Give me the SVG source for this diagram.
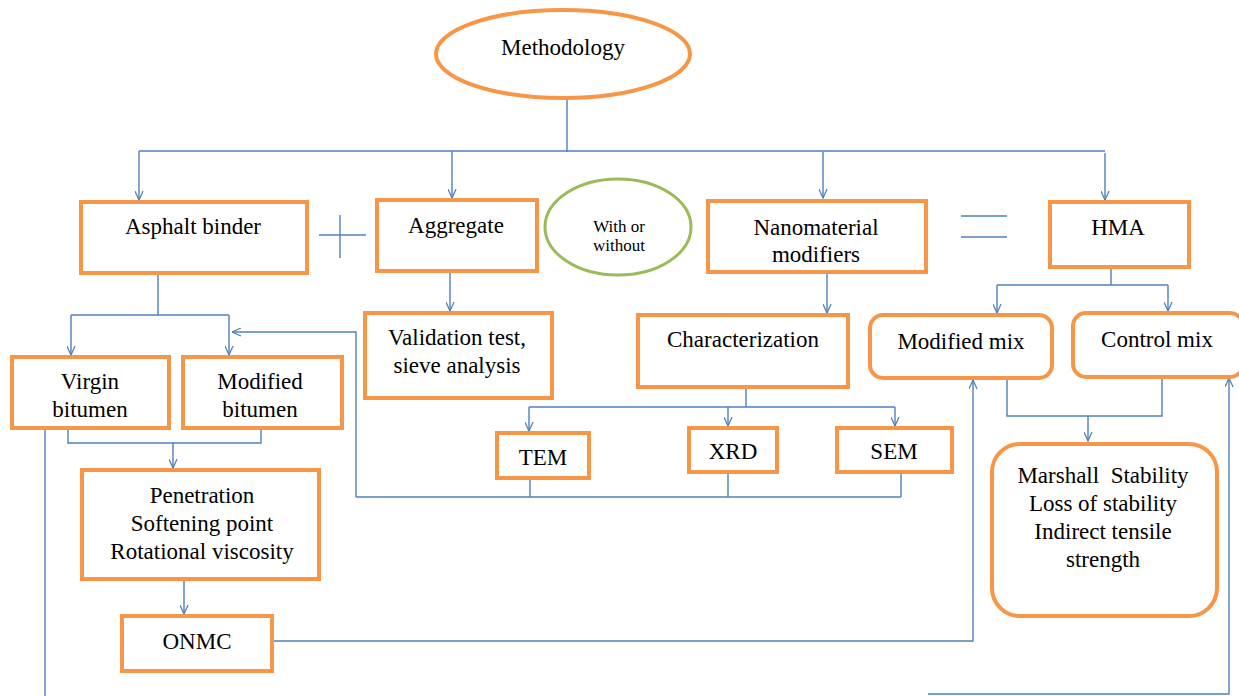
<svg xmlns="http://www.w3.org/2000/svg" width="1239" height="696" viewBox="0 0 1239 696">
<style>
.box{fill:#fff;stroke:#F79646;stroke-width:4}
.circ{fill:#fff;stroke:#9BBB59;stroke-width:3}
.ln{fill:none;stroke:#4F81BD;stroke-width:1.4}
.ar{fill:none;stroke:#4F81BD;stroke-width:1.4;marker-end:url(#ah)}
text{font-family:'Liberation Serif','DejaVu Serif',serif;font-size:23px;fill:#000;text-anchor:middle}
.sm{font-size:17px}
</style>
<defs>
<marker id="ah" viewBox="0 0 10 10" refX="10" refY="5" markerWidth="10" markerHeight="9" markerUnits="userSpaceOnUse" orient="auto">
<path d="M0,0.5 L10,5 L0,9.5" fill="none" stroke="#4F81BD" stroke-width="1.4"/>
</marker>
</defs>
<rect width="1239" height="696" fill="#fff"/>
<g id="connectors">
<path class="ln" d="M567,98 V152"/>
<path class="ln" d="M139,151 H1105"/>
<path class="ar" d="M139,151 V200"/>
<path class="ar" d="M452,151 V198"/>
<path class="ar" d="M823,152 V198"/>
<path class="ar" d="M1105,153 V200"/>
<path class="ln" d="M319,235 H366 M340,215 V258"/>
<path class="ln" d="M961,216 H1007 M961,237 H1007"/>
<path class="ln" d="M158,274 V315 M71,315 H229"/>
<path class="ar" d="M71,315 V355"/>
<path class="ar" d="M229,315 V355"/>
<path class="ar" d="M450,272 V311"/>
<path class="ar" d="M827,273 V313"/>
<path class="ln" d="M746,388 V407 M529,407 H895"/>
<path class="ar" d="M529,407 V431"/>
<path class="ar" d="M728,407 V426"/>
<path class="ar" d="M895,407 V426"/>
<path class="ln" d="M530,479 V497 M728,473 V497 M901,473 V497 M356,497 H901"/>
<path class="ar" d="M356,497 V332 H232"/>
<path class="ln" d="M68,429 V443 H261 V429"/>
<path class="ar" d="M173,443 V468"/>
<path class="ar" d="M184,580 V614"/>
<path class="ar" d="M273,641 H973 V380"/>
<path class="ln" d="M45,429 V696"/>
<path class="ar" d="M928,694 H1229 V378"/>
<path class="ln" d="M1111,268 V285 M997,285 H1168"/>
<path class="ar" d="M997,285 V313"/>
<path class="ar" d="M1168,285 V311"/>
<path class="ln" d="M1007,379 V416 H1162 V378"/>
<path class="ar" d="M1088,416 V441"/>
</g>
<g id="methodology"><ellipse class="box" cx="563" cy="54" rx="127" ry="44"/><text x="563" y="55">Methodology</text></g>
<g id="asphalt-binder"><rect class="box" x="81" y="202" width="226" height="71"/><text x="193" y="234">Asphalt binder</text></g>
<g id="aggregate"><rect class="box" x="377" y="200" width="160" height="71"/><text x="456" y="233">Aggregate</text></g>
<g id="with-or-without"><ellipse class="circ" cx="618" cy="227" rx="73" ry="48"/><text class="sm" x="619" y="232">With or</text><text class="sm" x="619" y="251">without</text></g>
<g id="nanomaterial"><rect class="box" x="708" y="201" width="218" height="71"/><text x="816" y="235">Nanomaterial</text><text x="816" y="262">modifiers</text></g>
<g id="hma"><rect class="box" x="1050" y="202" width="139" height="65"/><text x="1118" y="235">HMA</text></g>
<g id="virgin-bitumen"><rect class="box" x="12" y="357" width="157" height="71"/><text x="90" y="389">Virgin</text><text x="90" y="417">bitumen</text></g>
<g id="modified-bitumen"><rect class="box" x="183" y="357" width="159" height="71"/><text x="260" y="389">Modified</text><text x="260" y="417">bitumen</text></g>
<g id="validation"><rect class="box" x="365" y="313" width="187" height="85"/><text x="457" y="345">Validation test,</text><text x="457" y="373">sieve analysis</text></g>
<g id="characterization"><rect class="box" x="638" y="315" width="210" height="72"/><text x="743" y="347">Characterization</text></g>
<g id="tem"><rect class="box" x="497" y="433" width="92" height="45"/><text x="543" y="465">TEM</text></g>
<g id="xrd"><rect class="box" x="689" y="428" width="88" height="44"/><text x="733" y="459">XRD</text></g>
<g id="sem"><rect class="box" x="837" y="428" width="115" height="44"/><text x="894" y="459">SEM</text></g>
<g id="penetration"><rect class="box" x="82" y="470" width="237" height="109"/><text x="202" y="503">Penetration</text><text x="202" y="531">Softening point</text><text x="202" y="559">Rotational viscosity</text></g>
<g id="onmc"><rect class="box" x="122" y="616" width="150" height="55"/><text x="197" y="649">ONMC</text></g>
<g id="modified-mix"><rect class="box" x="870" y="315" width="182" height="63" rx="13"/><text x="961" y="349">Modified mix</text></g>
<g id="control-mix"><rect class="box" x="1073" y="313" width="170" height="64" rx="13"/><text x="1157" y="347">Control mix</text></g>
<g id="marshall"><rect class="box" x="992" y="444" width="225" height="172" rx="28"/><text x="1103" y="483" xml:space="preserve">Marshall  Stability</text><text x="1103" y="511">Loss of stability</text><text x="1103" y="539">Indirect tensile</text><text x="1103" y="567">strength</text></g>
</svg>
